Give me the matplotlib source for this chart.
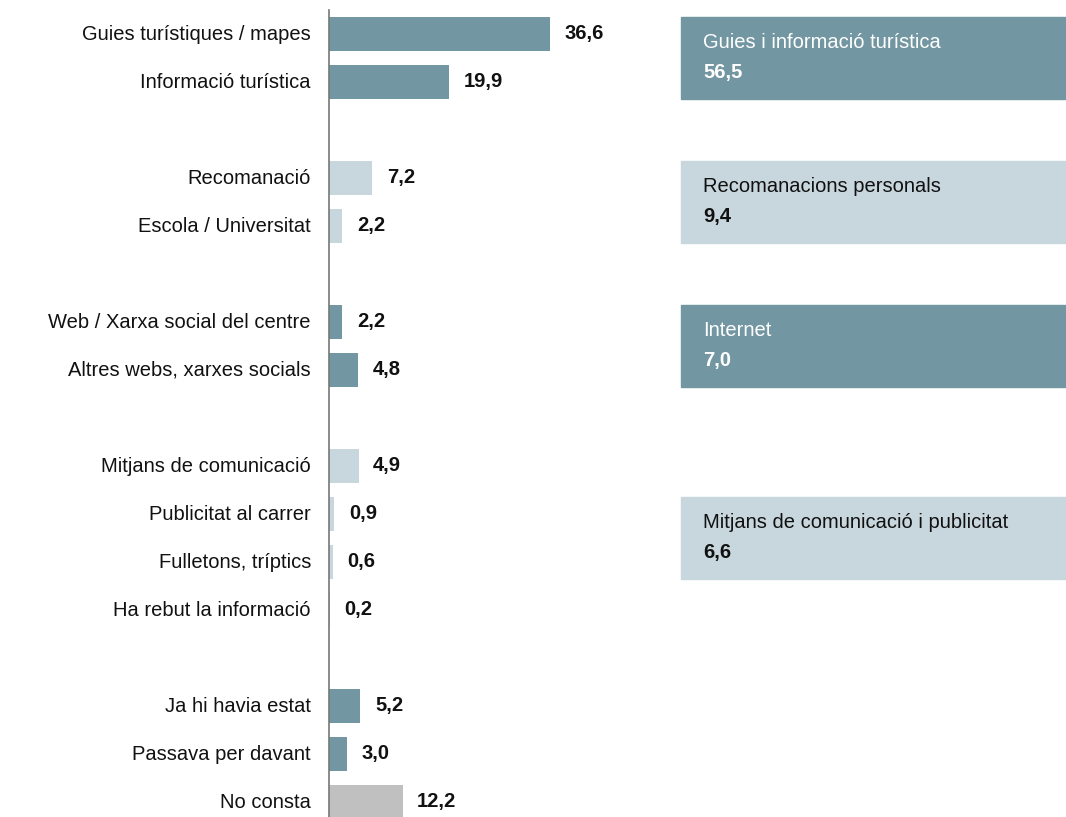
import numpy as np
import matplotlib.pyplot as plt
from matplotlib.patches import Rectangle

# bars, top to bottom
labels = ["Guies turístiques / mapes", "Informació turística",
          "Recomanació", "Escola / Universitat",
          "Web / Xarxa social del centre", "Altres webs, xarxes socials",
          "Mitjans de comunicació", "Publicitat al carrer", "Fulletons, tríptics",
          "Ha rebut la informació",
          "Ja hi havia estat", "Passava per davant", "No consta"]
values = [36.6, 19.9, 7.2, 2.2, 2.2, 4.8, 4.9, 0.9, 0.6, 0.2, 5.2, 3.0, 12.2]
groups = [0, 0, 1, 1, 2, 2, 3, 3, 3, 3, 4, 4, 4]
kinds = ["dark", "dark", "light", "light", "dark", "dark",
         "light", "light", "light", "light", "dark", "dark", "grey"]

# summary boxes on the right
box_titles = ["Guies i informació turística", "Recomanacions personals",
              "Internet", "Mitjans de comunicació i publicitat"]
box_values = [56.5, 9.4, 7.0, 6.6]
box_kinds = ["dark", "light", "dark", "light"]

palette = {"dark": "#7397a2", "light": "#c8d7dd", "grey": "#c0c0c0"}
text_on = {"dark": "white", "light": "#111111"}

plt.rcParams['font.family'] = ['Liberation Sans', 'DejaVu Sans']
fs = 14.5

# slot positions: an empty row between groups
pos = []
slot = 0
prev = groups[0]
for g in groups:
    if g != prev:
        slot += 1
        prev = g
    pos.append(slot)
    slot += 1
pos = np.array(pos)

fig = plt.figure(figsize=(10.66, 8.17), dpi=100)
ax = fig.add_axes([329 / 1066, 0, 1 - 329 / 1066, 1])
ax.set_xlim(0, 122)
ax.set_ylim(16 + 15 / 48, -34 / 48)
ax.axis("off")

cols = [palette[k] for k in kinds]
ax.barh(pos, values, height=0.69, color=cols, edgecolor="none")
ax.plot([0, 0], [-0.5, 16.4], color="#777777", lw=1.2, clip_on=False)

fmt = lambda v: f"{v:.1f}".replace(".", ",")
for p, lab, v in zip(pos, labels, values):
    ax.text(-3, p, lab, ha="right", va="center", fontsize=fs, color="#111111")
    ax.text(v + 2.4, p, fmt(v), ha="left", va="center", fontsize=fs,
            fontweight="bold", color="#111111")

# boxes centred between the two first rows of their group
box_pos = [0.5, 3.5, 6.5, 10.5]
for bp, t, v, k in zip(box_pos, box_titles, box_values, box_kinds):
    ax.add_patch(Rectangle((58.3, bp - 0.845), 70, 1.69, color=palette[k],
                           clip_on=False))
    ax.text(61.9, bp - 0.33, t, ha="left", va="center", fontsize=fs,
            color=text_on[k])
    ax.text(61.9, bp + 0.3, fmt(v), ha="left", va="center", fontsize=fs,
            fontweight="bold", color=text_on[k])

fig.savefig("out.png", dpi=100)
